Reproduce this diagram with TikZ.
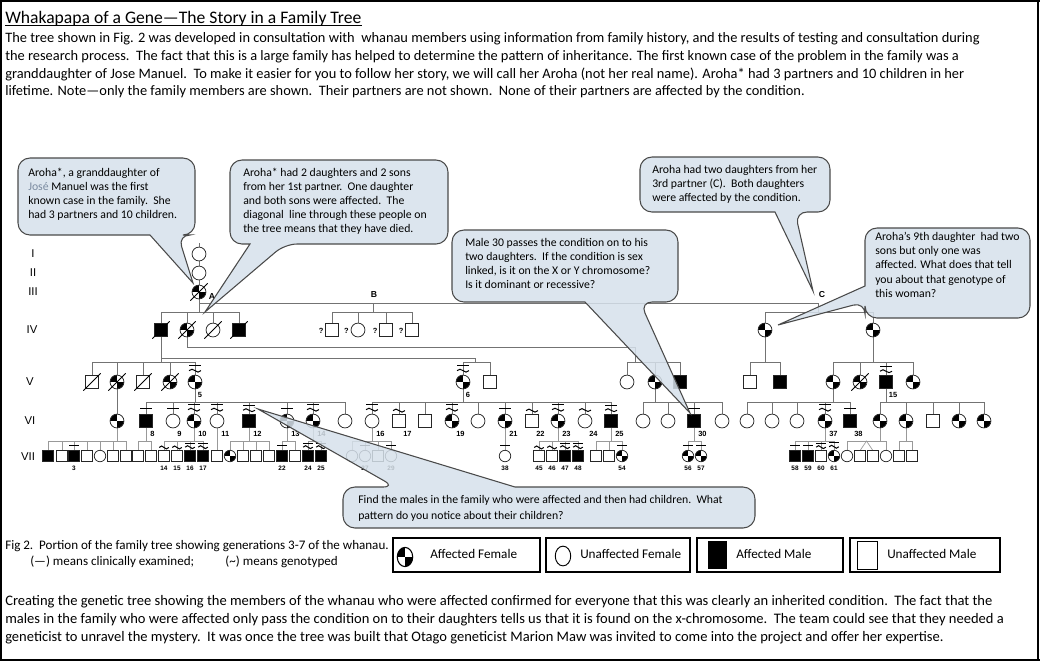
\documentclass[tikz,border=0pt]{standalone}
\usepackage{fontspec}
\setmainfont{Carlito}
\newfontfamily\labfont{Liberation Sans}
\usetikzlibrary{calc}
\definecolor{cbl}{HTML}{D6E1EB}
\definecolor{cbd}{HTML}{4A4A4A}
\definecolor{jose}{HTML}{7A8AA0}
\pgfdeclarelayer{bg}
\pgfsetlayers{bg,main}
\tikzset{
 sym/.style={draw=black!85, line width=0.55pt, inner sep=0pt, outer sep=0pt, fill=white},
 um/.style={sym, rectangle, minimum size=9.6pt},
 am/.style={um, fill=black},
 uf/.style={sym, circle, minimum size=10.4pt},
 qf/.style={path picture={\fill[black] (path picture bounding box.center) rectangle (path picture bounding box.north west); \fill[black] (path picture bounding box.center) rectangle (path picture bounding box.south east);}},
 af/.style={uf, qf},
 ums/.style={sym, rectangle, minimum size=8pt},
 ams/.style={ums, fill=black},
 ufs/.style={sym, circle, minimum size=8.6pt},
 afs/.style={ufs, qf},
 ln/.style={draw=black!55, line width=0.6pt},
 lnl/.style={draw=black!40, line width=0.5pt},
 mk/.style={draw=black, line width=0.75pt},
 num/.style={font=\labfont\bfseries\fontsize{5.6}{6}\selectfont, inner sep=0pt},
 gl/.style={font=\labfont\fontsize{8.5}{10}\selectfont, inner sep=0pt},
 callout/.style={draw=cbd, line width=0.8pt, fill=cbl, fill opacity=0.85},
 ct/.style={font=\fontsize{8.8}{10}\selectfont, anchor=base west, inner sep=0pt},
 bt/.style={font=\fontsize{10.9}{12}\selectfont, anchor=base west, inner sep=0pt},
 tt/.style={font=\fontsize{10.8}{12}\selectfont, anchor=base west, inner sep=0pt},
 lgt/.style={font=\fontsize{9.9}{11}\selectfont, anchor=base west, inner sep=0pt},
 lgbox/.style={draw=black, line width=0.8pt},
}
\newcommand\dcd[1]{\draw[line width=0.6pt] ([shift={(-6.5pt,-6.5pt)}]#1.center) -- ([shift={(6.5pt,6.5pt)}]#1.center);}
\newcommand\exm[2][1]{\draw[mk] ([shift={(-4.5pt*#1,4.5pt*#1)}]#2.north) -- ++(9pt*#1,0pt);}
\newcommand\gno[2][1]{\draw[mk] ([shift={(-4.5pt*#1,3pt*#1)}]#2.north) sin ++(2.25pt*#1,1.1pt) cos ++(2.25pt*#1,-1.1pt) sin ++(2.25pt*#1,-1.1pt) cos ++(2.25pt*#1,1.1pt);}
\newcommand\bth[2][1]{\draw[mk] ([shift={(-4.5pt*#1,7pt*#1)}]#2.north) -- ++(9pt*#1,0pt);
 \draw[mk] ([shift={(-4.5pt*#1,3.3pt*#1)}]#2.north) sin ++(2.25pt*#1,1.1pt) cos ++(2.25pt*#1,-1.1pt) sin ++(2.25pt*#1,-1.1pt) cos ++(2.25pt*#1,1.1pt);}
% family: [style]{parent}{y}{first}{last}{children}
\newcommand\pfam[6][ln]{\draw[#1] (#2) -- (#2 |- 0,#3);
 \draw[#1] (#4 |- 0,#3) -- (#5 |- 0,#3);
 \foreach \c in {#6}{\draw[#1] (\c) -- (\c |- 0,#3);}}
\begin{document}
\begin{tikzpicture}[x=0.75pt,y=-0.75pt]
\useasboundingbox (0,0) rectangle (1040,662);
% frame
\draw[line width=0.8pt] (1,0) -- (1,661);
\draw[line width=0.8pt] (1038,0) -- (1038,661);
\draw[line width=2pt] (0,1) -- (1040,1);
\draw[line width=2pt] (0,660) -- (1040,660);
% top text
\node[bt, font=\fontsize{13.2}{15}\selectfont] (title) at (5,23) {Whakapapa of a Gene—The Story in a Family Tree};
\draw[line width=0.6pt] ([yshift=-1.8pt]title.base west) -- ([yshift=-1.8pt]title.base east);
\node[tt] (t1) at (5,42) {The tree shown in Fig. 2 was developed in consultation with\ \ whanau members using information from family history, and the results of testing and consultation during};
\node[tt] (t2) at (5,60) {the research process.\ \ The fact that this is a large family has helped to determine the pattern of inheritance. The first known case of the problem in the family was a};
\node[tt] (t3) at (5,78) {granddaughter of Jose Manuel.\ \ To make it easier for you to follow her story, we will call her Aroha (not her real name). Aroha* had 3 partners and 10 children in her};
\node[tt] (t4) at (5,95) {lifetime. Note—only the family members are shown.\ \ Their partners are not shown.\ \ None of their partners are affected by the condition.};
% generation labels
\node[gl] (gI) at (33,254) {I};
\node[gl] (gII) at (33,273) {II};
\node[gl] (gIII) at (33,292) {III};
\node[gl] (gIV) at (32,330) {IV};
\node[gl] (gV) at (30,382) {V};
\node[gl] (gVI) at (30,421) {VI};
\node[gl] (gVII) at (28,457) {VII};
% generations I-III
\coordinate (i0) at (199,243);
\node[uf] (i1) at (199,254) {};
\node[uf] (ii1) at (199,273) {};
\node[af] (aroha) at (199,292) {};
\node[num, font=\labfont\bfseries\fontsize{6.5}{7}\selectfont] (lA) at (212,297) {A};
\coordinate (cB) at (373,303);
\coordinate (cC) at (818,303);
\node[num, font=\labfont\bfseries\fontsize{6.5}{7}\selectfont] (lB) at (374,295) {B};
\node[num, font=\labfont\bfseries\fontsize{6.5}{7}\selectfont] (lC) at (822,295) {C};
% generation IV
\node[am] (iv1) at (161,330) {};
\node[af] (iv2) at (187,330) {};
\node[uf] (iv3) at (213,330) {};
\node[am] (iv4) at (239,330) {};
\node[um] (ivb1) at (332,330) {};
\node[uf] (ivb2) at (358,330) {};
\node[um] (ivb3) at (386,330) {};
\node[um] (ivb4) at (412,330) {};
\foreach \n in {ivb1,ivb2,ivb3,ivb4}{\node[num, anchor=east] at ([xshift=-1.5pt,yshift=-1pt]\n.west) {?};}
\node[af] (ivc1) at (765,330) {};
\node[af] (ivc2) at (873,330) {};
\coordinate (j1) at (475,358);
\coordinate (j2) at (635,347);
% generation V
\node[um] (v1) at (92,382) {};
\node[af] (v2) at (117,382) {};
\node[um] (v3) at (143,382) {};
\node[af] (v4) at (170,382) {};
\node[af] (v5) at (195,382) {};
\node[af] (v6) at (463,382) {};
\node[um] (v7) at (490,382) {};
\node[uf] (v8) at (627,382) {};
\node[af] (v9) at (655,382) {};
\node[am] (v10) at (680,382) {};
\node[um] (v11) at (750,382) {};
\node[am] (v12) at (780,382) {};
\node[af] (v13) at (833,382) {};
\node[af] (v14) at (860,382) {};
\node[am] (v15) at (886,382) {};
\node[af] (v16) at (913,382) {};
% generation VI
\node[af] (vi1) at (117,421) {};
\node[am] (vi2) at (146,421) {};
\node[uf] (vi3) at (173,421) {};
\node[af] (vi4) at (194,421) {};
\node[uf] (vi5) at (217,421) {};
\node[am] (vi6) at (249,421) {};
\node[af] (vi7) at (287,421) {};
\node[af] (vi8) at (313,421) {};
\node[uf] (vi9) at (345,421) {};
\node[uf] (vi10) at (372,421) {};
\node[um] (vi11) at (399,421) {};
\node[um] (vi12) at (425,421) {};
\node[af] (vi13) at (452,421) {};
\node[uf] (vi14) at (478,421) {};
\node[af] (vi15) at (505,421) {};
\node[um] (vi16) at (532,421) {};
\node[af] (vi17) at (558,421) {};
\node[uf] (vi18) at (585,421) {};
\node[am] (vi19) at (611,421) {};
\node[uf] (vi20) at (643,421) {};
\node[uf] (vi21) at (668,421) {};
\node[am] (vi22) at (694,421) {};
\node[uf] (vi23) at (722,421) {};
\node[uf] (vi24) at (747,421) {};
\node[uf] (vi25) at (772,421) {};
\node[uf] (vi26) at (797,421) {};
\node[af] (vi27) at (825,421) {};
\node[am] (vi28) at (850,421) {};
\node[af] (vi29) at (880,421) {};
\node[af] (vi30) at (906,421) {};
\node[um] (vi31) at (933,421) {};
\node[af] (vi32) at (959,421) {};
\node[af] (vi33) at (984,421) {};
% generation VII
\node[ams] (s048) at (48,456) {};
\node[ums] (s062) at (62,456) {};
\node[ams] (s073) at (74,456) {};
\node[ums] (s087) at (87,456) {};
\node[ufs] (s100) at (100,456) {};
\node[ums] (s113) at (113,456) {};
\node[ums] (s126) at (126,456) {};
\node[ums] (s138) at (138,456) {};
\node[ums] (s151) at (151,456) {};
\node[ums] (s163) at (164,456) {};
\node[ums] (s176) at (177,456) {};
\node[ams] (s190) at (190,456) {};
\node[ams] (s203) at (203,456) {};
\node[ums] (s217) at (217,456) {};
\node[afs] (s230) at (230,456) {};
\node[ums] (s243) at (243,456) {};
\node[ums] (s255) at (256,456) {};
\node[ums] (s268) at (269,456) {};
\node[ams] (s282) at (282,456) {};
\node[ums] (s294) at (295,456) {};
\node[ams] (s307) at (308,456) {};
\node[ams] (s320) at (321,456) {};
\node[ufs] (s352) at (352,456) {};
\node[ufs] (s365) at (365,456) {};
\node[ums] (s378) at (378,456) {};
\node[ufs] (s391) at (391,456) {};
\node[ufs] (s505) at (505,456) {};
\node[ums] (s538) at (539,456) {};
\node[ums] (s552) at (552,456) {};
\node[ams] (s565) at (565,456) {};
\node[ams] (s577) at (578,456) {};
\node[ums] (s596) at (596,456) {};
\node[ums] (s608) at (609,456) {};
\node[afs] (s622) at (622,456) {};
\node[afs] (s687) at (688,456) {};
\node[afs] (s701) at (701,456) {};
\node[ams] (s795) at (795,456) {};
\node[ams] (s808) at (808,456) {};
\node[ums] (s821) at (821,456) {};
\node[afs] (s834) at (834,456) {};
\node[ufs] (s847) at (847,456) {};
\node[ums] (s860) at (860,456) {};
\node[ums] (s873) at (873,456) {};
\node[ufs] (s886) at (886,456) {};
\node[ums] (s899) at (899,456) {};
\node[ums] (s912) at (912,456) {};
\coordinate (tw) at (866.5,441);
% deceased
\foreach \n in {aroha,iv1,iv2,iv3,iv4,v1,v2,v3,v4,v14}{\dcd{\n}}
% marks
\foreach \n in {v5,v6,v15,vi4,vi5,vi6,vi8,vi10,vi13,vi17,vi19,vi27}{\bth{\n}}
\foreach \n in {vi2,vi3,vi7,vi15,vi22,vi28}{\exm{\n}}
\foreach \n in {vi11,vi16,vi18}{\gno{\n}}
\foreach \n in {s073,s282,s365,s391,s505,s622,s687,s701,s795,s808}{\exm[0.8]{\n}}
\foreach \n in {s163,s176,s538,s552}{\gno[0.8]{\n}}
\foreach \n in {s190,s203,s307,s320,s565,s577,s821,s834}{\bth[0.8]{\n}}
% numbers
\foreach \n/\t in {v5/5,v6/6,v15/15}{\node[num, anchor=west] (l-\n) at ([xshift=2pt]\n |- 0,395) {\t};}
\foreach \n/\t in {vi2/8,vi3/9,vi4/10,vi5/11,vi6/12,vi7/13,vi8/14,vi10/16,vi11/17,vi13/19,vi15/21,vi16/22,vi17/23,vi18/24,vi19/25,vi22/30,vi27/37,vi28/38}{\node[num, anchor=west] (l-\n) at ([xshift=3pt]\n |- 0,434) {\t};}
\foreach \n/\t in {s073/3,s163/14,s176/15,s190/16,s203/17,s282/22,s307/24,s320/25,s365/27,s391/29,s505/38,s538/45,s552/46,s565/47,s577/48,s622/54,s687/56,s701/57,s795/58,s808/59,s821/60,s834/61}{\node[num, font=\labfont\bfseries\fontsize{4.8}{5}\selectfont] (l-\n) at (\n |- 0,468) {\t};}
% connectors
\begin{pgfonlayer}{bg}
\draw[ln] (i0) -- (i1) -- (ii1) -- (aroha);
\draw[ln] (aroha |- cC) -- (cC);
\pfam{aroha}{312}{iv1}{iv4}{iv1,iv2,iv3,iv4}
\pfam{cB}{312}{ivb1}{ivb4}{ivb1,ivb2,ivb3,ivb4}
\pfam{cC}{312}{ivc1}{ivc2}{ivc1,ivc2}
\draw[ln] (iv1 |- j1) -- (j1);
\draw[ln] (iv2) -- (iv2 |- j2) -- (j2);
\pfam{iv1}{362}{v1}{v5}{v1,v2,v3,v4,v5}
\pfam{j1}{362}{v6}{v7}{v6,v7}
\pfam{j2}{362}{v8}{v10}{v8,v9,v10}
\pfam{ivc1}{362}{v11}{v12}{v11,v12}
\pfam{ivc2}{362}{v13}{v16}{v13,v14,v15,v16}
\draw[ln] (v2) -- (vi1);
\pfam{v5}{402}{vi2}{vi9}{vi2,vi3,vi4,vi5,vi6,vi7,vi8,vi9}
\pfam{v6}{402}{vi10}{vi19}{vi10,vi11,vi12,vi13,vi14,vi15,vi16,vi17,vi18,vi19}
\pfam{v9}{402}{vi20}{vi23}{vi20,vi21,vi22,vi23}
\pfam{v13}{402}{vi24}{vi28}{vi24,vi25,vi26,vi27,vi28}
\pfam{v15}{402}{vi29}{vi33}{vi29,vi30,vi31,vi32,vi33}
\pfam[lnl]{vi1}{441}{s048}{s126}{s048,s062,s073,s087,s100,s113,s126}
\pfam[lnl]{vi2}{441}{s138}{s151}{s138,s151}
\pfam[lnl]{vi4}{441}{s163}{s203}{s163,s176,s190,s203}
\draw[lnl] (vi5) -- (s217);
\pfam[lnl]{vi6}{441}{s230}{s268}{s230,s243,s255,s268}
\pfam[lnl]{vi7}{441}{s282}{s294}{s282,s294}
\pfam[lnl]{vi8}{441}{s307}{s320}{s307,s320}
\pfam[lnl]{vi10}{441}{s352}{s391}{s352,s365,s378,s391}
\draw[lnl] (vi15) -- (s505);
\pfam[lnl]{vi17}{441}{s538}{s577}{s538,s552,s565,s577}
\pfam[lnl]{vi19}{441}{s596}{s622}{s596,s608,s622}
\pfam[lnl]{vi22}{441}{s687}{s701}{s687,s701}
\pfam[lnl]{vi27}{441}{s795}{s834}{s795,s808,s821,s834}
\pfam[lnl]{vi29}{441}{s847}{s886}{s847,s886}
\draw[lnl] (s860.north) -- (tw) -- (s873.north);
\pfam[lnl]{vi30}{441}{s899}{s912}{s899,s912}
\end{pgfonlayer}
% callouts
\draw[callout] (100,158) [rounded corners=9pt] -- (195,158) -- (195,235) -- (178,235) [sharp corners] -- (193,283) -- (150,235) [rounded corners=9pt] -- (18,235) -- (18,158) -- cycle;
\node[ct] (c1a) at (28,176) {Aroha*, a granddaughter of};
\node[ct] (c1b) at (28,190) {{\color{jose}José} Manuel was the first};
\node[ct] (c1c) at (28,204) {known case in the family.\ \ She};
\node[ct] (c1d) at (28,218) {had 3 partners and 10 children.};
\draw[callout] (340,160) [rounded corners=9pt] -- (448,160) -- (448,244) -- (285,244) [sharp corners] -- (205,312) -- (250,244) [rounded corners=9pt] -- (230,244) -- (230,160) -- cycle;
\node[ct] (c2a) at (243,176) {Aroha* had 2 daughters and 2 sons};
\node[ct] (c2b) at (243,190) {from her 1st partner.\ \ One daughter};
\node[ct] (c2c) at (243,204) {and both sons were affected.\ \ The};
\node[ct] (c2d) at (243,218) {diagonal\ \ line through these people on};
\node[ct] (c2e) at (243,232) {the tree means that they have died.};
\draw[callout] (735,157) [rounded corners=9pt] -- (830,157) -- (830,212) -- (795,212) [sharp corners] -- (813,291) -- (775,212) [rounded corners=9pt] -- (640,212) -- (640,157) -- cycle;
\node[ct] (c3a) at (652,173) {Aroha had two daughters from her};
\node[ct] (c3b) at (652,187) {3rd partner (C).\ \ Both daughters};
\node[ct] (c3c) at (652,201) {were affected by the condition.};
\draw[callout] (565,230) [rounded corners=9pt] -- (678,230) -- (678,302) -- (640,302) [sharp corners] -- (690,413) -- (585,302) [rounded corners=9pt] -- (452,302) -- (452,230) -- cycle;
\node[ct] (c4a) at (465,246) {Male 30 passes the condition on to his};
\node[ct] (c4b) at (465,260) {two daughters.\ \ If the condition is sex};
\node[ct] (c4c) at (465,274) {linked, is it on the X or Y chromosome?};
\node[ct] (c4d) at (465,288) {Is it dominant or recessive?};
\draw[callout] (947,228) [rounded corners=9pt] -- (1030,228) -- (1030,318) -- (865,318) -- (865,302) [sharp corners] -- (778,325) -- (865,286) [rounded corners=9pt] -- (865,228) -- cycle;
\node[ct] (c5a) at (875,240) {Aroha’s 9th daughter\ \ had two};
\node[ct] (c5b) at (875,254) {sons but only one was};
\node[ct] (c5c) at (875,268) {affected. What does that tell};
\node[ct] (c5d) at (875,283) {you about that genotype of};
\node[ct] (c5e) at (875,297) {this woman?};
\draw[callout] (549,528) [rounded corners=9pt] -- (343,528) -- (343,487) -- (395,487) [sharp corners] -- (258,409) -- (515,487) [rounded corners=9pt] -- (755,487) -- (755,528) -- cycle;
\node[ct] (c6a) at (358,503) {Find the males in the family who were affected and then had children.\ \ What};
\node[ct] (c6b) at (358,519) {pattern do you notice about their children?};
% caption
\node[lgt, font=\fontsize{9.8}{11}\selectfont] (cap1) at (5,549) {Fig 2.\ \ Portion of the family tree showing generations 3-7 of the whanau.};
\node[lgt, font=\fontsize{9.8}{11}\selectfont] (cap2) at (30,565) {(—) means clinically examined;\hspace{2.4em}(\textasciitilde) means genotyped};
% legend
\draw[lgbox] (393,538) rectangle (540,572);
\begin{scope}
\clip (405,557) ellipse [x radius=5.8pt, y radius=7.2pt];
\fill (405,557) rectangle ++(-12,-14);
\fill (405,557) rectangle ++(12,14);
\end{scope}
\draw[line width=0.8pt] (405,557) ellipse [x radius=5.8pt, y radius=7.2pt];
\node[lgt] (lg1) at (430,558) {Affected Female};
\draw[lgbox] (546,538) rectangle (690,572);
\draw[line width=0.7pt] (563,556) ellipse [x radius=5.8pt, y radius=7.4pt];
\node[lgt] (lg2) at (580,558) {Unaffected Female};
\draw[lgbox] (697,538) rectangle (843,572);
\fill (708,541) rectangle (727,569);
\node[lgt] (lg3) at (736,558) {Affected Male};
\draw[lgbox] (850,538) rectangle (1000,572);
\draw[line width=0.7pt] (857,541) rectangle (877,569);
\node[lgt] (lg4) at (887,558) {Unaffected Male};
% bottom text
\node[bt] (b1) at (5,605) {Creating the genetic tree showing the members of the whanau who were affected confirmed for everyone that this was clearly an inherited condition.\ \ The fact that the};
\node[bt] (b2) at (5,623) {males in the family who were affected only pass the condition on to their daughters tells us that it is found on the x-chromosome.\ \ The team could see that they needed a};
\node[bt] (b3) at (5,641) {geneticist to unravel the mystery.\ \ It was once the tree was built that Otago geneticist Marion Maw was invited to come into the project and offer her expertise.};
\end{tikzpicture}
\end{document}
